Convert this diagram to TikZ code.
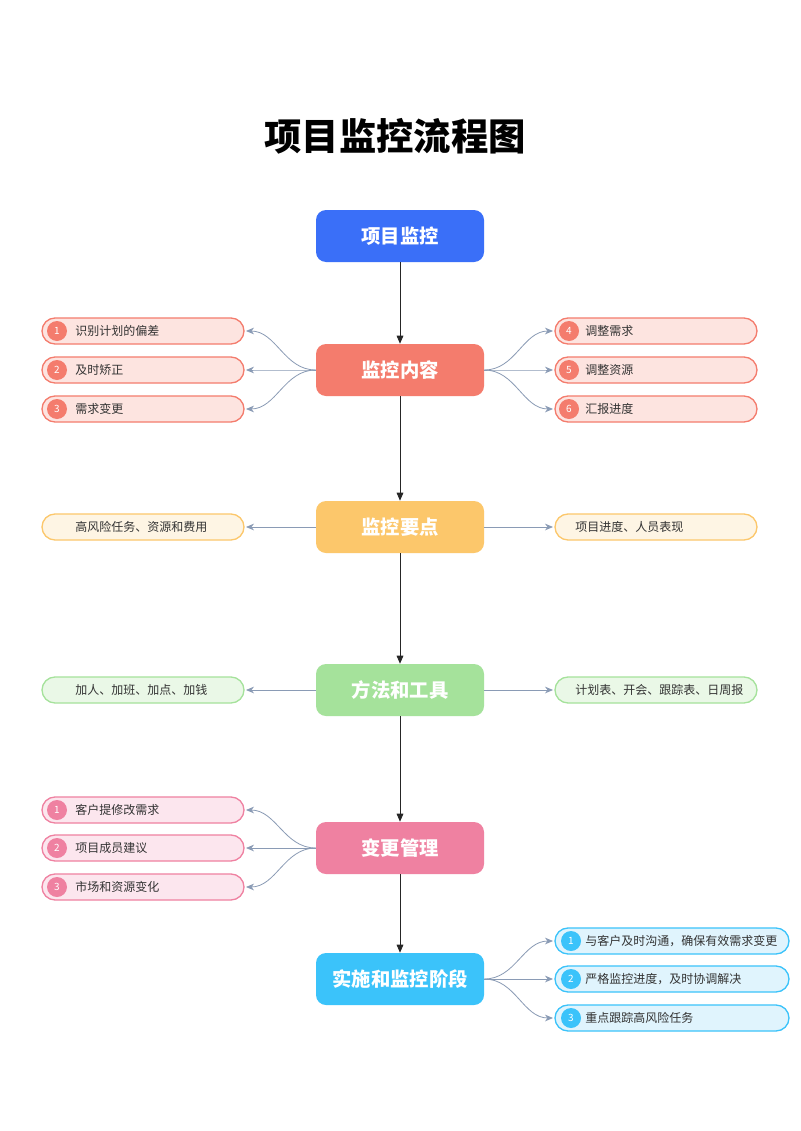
\documentclass[tikz,border=0pt]{standalone}
\usepackage{fontspec}
\setmainfont{Noto Sans CJK SC}
\usepackage{xcolor}
\usetikzlibrary{positioning,arrows.meta}
\definecolor{cblue}{HTML}{3A6FF8}
\definecolor{csalmon}{HTML}{F47C6D}
\definecolor{csalmonl}{HTML}{FDE4E0}
\definecolor{cyellow}{HTML}{FCC76B}
\definecolor{cyellowl}{HTML}{FEF5E4}
\definecolor{cgreen}{HTML}{A5E29B}
\definecolor{cgreenl}{HTML}{EAF8E7}
\definecolor{cpink}{HTML}{EF81A1}
\definecolor{cpinkl}{HTML}{FCE6EE}
\definecolor{csky}{HTML}{3BC3FA}
\definecolor{cskyl}{HTML}{E0F4FD}
\definecolor{linkgray}{HTML}{8A9BB5}
\definecolor{textgray}{HTML}{333333}

\begin{document}
\begin{tikzpicture}[x=0.75pt,y=-0.75pt]
      \tikzstyle{mainbox} = [rectangle, rounded corners=7.5pt, minimum
      width=126pt, minimum height=39pt, text=white,
      font=\bfseries\fontsize{14.5}{16}\selectfont]
      \tikzstyle{itembox} = [rectangle, rounded corners=9.75pt, minimum
      width=151.5pt, minimum height=19.5pt, line width=1pt]
      \tikzstyle{num} = [circle, minimum size=15pt, inner sep=0pt,
      text=white, font=\fontsize{7.5}{8}\selectfont]
      \tikzstyle{itemtext} = [anchor=west, inner sep=0pt, text=textgray,
      font=\fontsize{9}{10}\selectfont]
      \tikzstyle{flow} = [draw=black!85, line width=0.6pt,
      -{Triangle[length=6pt,width=5pt]}]
      \tikzstyle{link} = [draw=linkgray, line width=0.6pt,
      -{Stealth[length=6pt,width=5pt]}, shorten >=1pt]
      \fill[white] (0,0) rectangle (800,1131);
      \useasboundingbox (0,0) rectangle (800,1131);
      % TITLE
      \node[font=\bfseries\fontsize{28}{32}\selectfont] (title) at
      (395,136) {项目监控流程图};
      % MAIN
      \node[mainbox, fill=cblue] (xmjk) at (400,236) {项目监控};
      \node[mainbox, fill=csalmon] (jknr) at (400,370) {监控内容};
      \node[mainbox, fill=cyellow] (jkyd) at (400,527) {监控要点};
      \node[mainbox, fill=cgreen] (ffgj) at (400,690) {方法和工具};
      \node[mainbox, fill=cpink] (bggl) at (400,848) {变更管理};
      \node[mainbox, fill=csky] (ssjk) at (400,979) {实施和监控阶段};
      \draw[flow] (xmjk) -- (jknr); \draw[flow] (jknr) -- (jkyd);
      \draw[flow] (jkyd) -- (ffgj); \draw[flow] (ffgj) -- (bggl);
      \draw[flow] (bggl) -- (ssjk);
      % CONTENT
      \foreach \n/\y/\t in {1/331/识别计划的偏差, 2/370/及时矫正, 3/409/需求变更}{
        \node[itembox, draw=csalmon, fill=csalmonl] (nrl\n) at (143,\y) {};
        \node[num, fill=csalmon] (nrl\n-n) at (57,\y) {\n};
        \node[itemtext] (nrl\n-t) at (75,\y) {\t};
        \draw[link] (jknr.west) to[out=180,in=0] (nrl\n.east);
      }
      \foreach \n/\y/\t in {4/331/调整需求, 5/370/调整资源, 6/409/汇报进度}{
        \node[itembox, draw=csalmon, fill=csalmonl] (nrr\n) at (656,\y) {};
        \node[num, fill=csalmon] (nrr\n-n) at (569,\y) {\n};
        \node[itemtext] (nrr\n-t) at (585,\y) {\t};
        \draw[link] (jknr.east) to[out=0,in=180] (nrr\n.west);
      }
      % KEY POINTS
      \node[itembox, draw=cyellow, fill=cyellowl] (ydl) at (143,527) {};
      \node[itemtext] (ydl-t) at (75,527) {高风险任务、资源和费用};
      \node[itembox, draw=cyellow, fill=cyellowl] (ydr) at (656,527) {};
      \node[itemtext] (ydr-t) at (575,527) {项目进度、人员表现};
      \draw[link] (jkyd) -- (ydl); \draw[link] (jkyd) -- (ydr);
      % METHODS
      \node[itembox, draw=cgreen, fill=cgreenl] (gjl) at (143,690) {};
      \node[itemtext] (gjl-t) at (75,690) {加人、加班、加点、加钱};
      \node[itembox, draw=cgreen, fill=cgreenl] (gjr) at (656,690) {};
      \node[itemtext] (gjr-t) at (575,690) {计划表、开会、跟踪表、日周报};
      \draw[link] (ffgj) -- (gjl); \draw[link] (ffgj) -- (gjr);
      % CHANGES
      \foreach \n/\y/\t in {1/810/客户提修改需求, 2/848/项目成员建议, 3/887/市场和资源变化}{
        \node[itembox, draw=cpink, fill=cpinkl] (bg\n) at (143,\y) {};
        \node[num, fill=cpink] (bg\n-n) at (57,\y) {\n};
        \node[itemtext] (bg\n-t) at (75,\y) {\t};
        \draw[link] (bggl.west) to[out=180,in=0] (bg\n.east);
      }
      % EXECUTION
      \foreach \n/\y/\t in {1/941/与客户及时沟通，确保有效需求变更,
        2/979/严格监控进度，及时协调解决, 3/1018/重点跟踪高风险任务}{
        \node[itembox, minimum width=175.5pt, draw=csky, fill=cskyl]
        (ss\n) at (672,\y) {};
        \node[num, fill=csky] (ss\n-n) at (571,\y) {\n};
        \node[itemtext] (ss\n-t) at (585,\y) {\t};
        \draw[link] (ssjk.east) to[out=0,in=180] (ss\n.west);
      }
\end{tikzpicture}
\end{document}
